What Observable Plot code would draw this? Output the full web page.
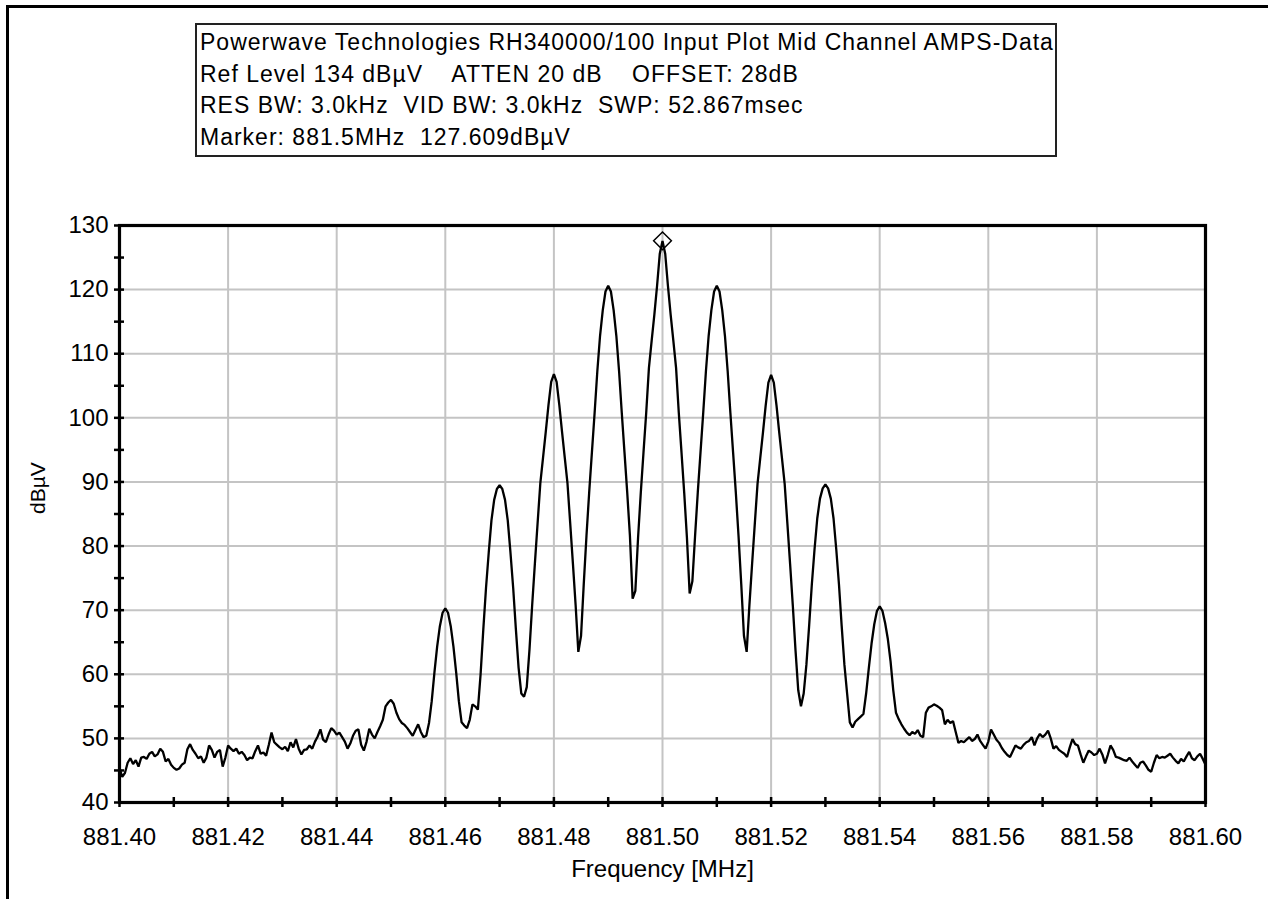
<!DOCTYPE html>
<html>
<head>
<meta charset="utf-8">
<script src="https://cdn.jsdelivr.net/npm/d3@7"></script>
<script src="https://cdn.jsdelivr.net/npm/@observablehq/plot@0.6"></script>
<style>
html, body { margin: 0; padding: 0; background: #fff; }
#page { position: relative; width: 1268px; height: 899px; overflow: hidden; background: #fff;
        font-family: "Liberation Sans", Arial, sans-serif; }
#border { position: absolute; left: 6px; top: 5px; right: -10px; bottom: -10px;
          border-top: 3px solid #000; border-left: 3px solid #000; }
#chart { position: absolute; left: 0; top: 0; }
#info { position: absolute; left: 195px; top: 23px; width: 862px; height: 134px; box-sizing: border-box;
        border: 2px solid #222; font-size: 23px; line-height: 31.6px; letter-spacing: 1px;
        white-space: pre; padding: 2px 0 0 3px; color: #000; background: #fff; z-index: 2; }
</style>
</head>
<body>
<div id="page">
  <div id="border"></div>
  <div id="chart"></div>
  <div id="info"></div>
</div>
<script>
// ---- data ----
const infoLines = [
  "Powerwave Technologies RH340000/100 Input Plot Mid Channel AMPS-Data",
  "Ref Level 134 dBµV    ATTEN 20 dB    OFFSET: 28dB",
  "RES BW: 3.0kHz  VID BW: 3.0kHz  SWP: 52.867msec",
  "Marker: 881.5MHz  127.609dBµV"
];

const startMHz = 881.40;
const stopMHz = 881.60;

// trace level (dBµV), one sweep point every 0.5 kHz from 881.40 to 881.60 MHz
const levels = [
  45.4,44.0,44.6,46.2,46.9,46.0,46.6,45.6,47.0,47.1,46.8,47.6,47.9,47.2,47.5,48.4,47.9,46.4,46.8,45.9,
  45.4,45.1,45.3,45.9,46.2,48.3,49.1,48.2,47.6,46.9,47.2,46.2,47.0,48.9,48.2,47.0,47.9,48.2,45.6,47.0,
  48.9,48.4,48.0,48.4,47.6,47.9,47.4,46.6,47.0,46.9,48.0,48.9,47.6,47.8,47.3,49.0,50.9,49.4,49.0,48.6,
  48.3,48.7,48.0,49.4,48.6,49.9,48.4,47.5,48.2,48.3,48.9,48.4,49.5,50.3,51.4,49.8,49.4,50.6,51.6,51.2,
  50.6,50.9,50.2,49.5,48.4,49.2,50.4,51.2,51.4,49.0,48.1,49.5,51.5,50.6,50.0,51.0,51.9,52.9,55.0,55.6,
  56.0,55.4,54.0,53.0,52.4,52.1,51.6,51.0,50.4,51.3,52.2,51.0,50.2,50.4,52.4,55.8,60.3,64.3,67.5,69.6,
  70.3,69.6,67.5,64.3,60.3,55.8,52.5,52.0,51.6,52.9,55.3,55.0,54.5,60.0,67.0,73.5,79.0,84.0,87.2,88.9,
  89.5,88.9,87.2,84.0,79.0,73.5,67.0,61.0,57.0,56.5,58.0,63.8,70.8,77.3,83.6,89.8,93.8,97.8,102.0,105.6,
  106.8,105.6,102.0,97.8,93.8,89.8,83.6,77.3,70.8,63.5,66.0,74.1,81.6,88.4,94.6,100.8,107.3,112.8,116.8,119.7,
  120.6,119.7,116.8,112.8,107.3,100.8,94.6,88.4,81.6,71.8,73.0,81.3,88.3,94.6,100.8,107.8,112.0,116.1,120.6,125.6,
  127.6,125.6,120.6,116.1,112.0,107.8,100.8,94.6,88.3,81.3,72.6,74.5,81.6,88.4,94.6,100.8,107.3,112.8,116.8,119.7,
  120.6,119.7,116.8,112.8,107.3,100.8,94.6,88.4,81.6,74.1,66.0,63.5,70.7,77.2,83.5,89.7,93.7,97.7,101.9,105.5,
  106.7,105.5,101.9,97.7,93.7,89.7,83.5,77.2,70.7,63.7,57.5,55.0,57.0,61.5,67.5,74.0,79.5,84.3,87.4,89.0,
  89.6,89.0,87.4,84.3,79.5,74.0,67.5,61.5,57.0,52.5,51.7,52.6,53.0,53.4,53.8,57.0,61.0,64.8,67.8,69.9,
  70.6,69.9,68.0,65.5,62.0,57.5,54.0,53.0,52.2,51.5,50.9,50.5,51.0,50.7,51.3,50.4,50.2,54.0,54.8,55.0,
  55.3,55.1,54.8,54.4,52.2,52.9,52.4,52.7,51.0,49.3,49.6,49.4,49.8,50.2,49.6,49.9,50.6,49.6,49.0,48.4,
  49.5,51.4,50.6,49.8,49.3,48.5,47.9,47.4,47.1,48.0,48.9,48.6,48.4,49.0,49.4,49.6,50.2,48.9,50.0,50.7,
  50.2,50.6,51.2,50.0,48.4,48.8,48.2,47.9,47.6,47.1,48.6,49.9,49.1,48.9,47.5,46.2,47.2,48.1,47.8,47.4,
  47.6,48.4,47.5,46.1,47.4,48.9,48.2,47.1,47.0,46.8,46.6,46.5,47.0,46.4,45.9,45.4,46.2,46.4,45.8,45.1,
  44.8,46.2,47.4,46.9,47.1,47.0,47.3,47.6,47.0,46.5,46.1,46.8,46.4,47.2,47.9,46.9,46.6,47.2,47.6,46.8,
  45.9
];

const xLabelTicks = [881.40, 881.42, 881.44, 881.46, 881.48, 881.50, 881.52, 881.54, 881.56, 881.58, 881.60];
const xMinorTicks = [881.40, 881.41, 881.42, 881.43, 881.44, 881.45, 881.46, 881.47, 881.48, 881.49, 881.50,
                     881.51, 881.52, 881.53, 881.54, 881.55, 881.56, 881.57, 881.58, 881.59, 881.60];
const yLabelTicks = [40, 50, 60, 70, 80, 90, 100, 110, 120, 130];
const yMinorTicks = [40, 45, 50, 55, 60, 65, 70, 75, 80, 85, 90, 95, 100, 105, 110, 115, 120, 125, 130];
const markerFreq = [881.5];
const markerLevel = [127.609];
const yTitle = "dBµV";
const xTitle = "Frequency [MHz]";

// ---- build ----
document.getElementById("info").textContent = infoLines.join("\n");

const stepMHz = (stopMHz - startMHz) / (levels.length - 1);
const trace = levels.map((v, i) => ({f: startMHz + i * stepMHz, v}));
const marker = markerFreq.map((f, i) => ({f, v: markerLevel[i]}));

const gridStyle = {stroke: "#c4c4c4", strokeOpacity: 1, strokeWidth: 2};

const chart = Plot.plot({
  width: 1268,
  height: 899,
  marginLeft: 119,
  marginRight: 63,
  marginTop: 225,
  marginBottom: 97,
  style: {fontFamily: "'Liberation Sans', Arial, sans-serif", fontSize: "24px", background: "transparent", color: "#000"},
  x: {domain: [startMHz, stopMHz]},
  y: {domain: [40, 130]},
  marks: [
    Plot.gridX(xLabelTicks, gridStyle),
    Plot.gridY(yLabelTicks, gridStyle),
    Plot.line(trace, {x: "f", y: "v", stroke: "#000", strokeWidth: 2.3, strokeLinejoin: "miter"}),
    Plot.frame({stroke: "#000", strokeWidth: 3.2}),
    Plot.ruleX(xMinorTicks, {x: d => d, y1: 40, y2: 40, insetTop: -5, insetBottom: -5, stroke: "#000", strokeWidth: 2.5}),
    Plot.ruleY(yMinorTicks, {y: d => d, x1: startMHz, x2: startMHz, insetLeft: -5, insetRight: -5, stroke: "#000", strokeWidth: 2.5}),
    Plot.axisX(xLabelTicks, {tickSize: 0, tickPadding: 25, tickFormat: d3.format(".2f"), label: null, fill: "#000"}),
    Plot.axisY(yLabelTicks, {tickSize: 0, tickPadding: 11, tickFormat: d3.format("d"), label: null, fill: "#000"}),
    Plot.text([yTitle], {frameAnchor: "left", dx: -81, rotate: -90, fontSize: 21, fill: "#000"}),
    Plot.text([xTitle], {frameAnchor: "bottom", dy: 74, fontSize: 24, fill: "#000"}),
    Plot.dot(marker, {x: "f", y: "v", symbol: "diamond2", r: 8, stroke: "#000", strokeWidth: 1.5, fill: "none"})
  ]
});
document.getElementById("chart").appendChild(chart);
</script>
</body>
</html>
